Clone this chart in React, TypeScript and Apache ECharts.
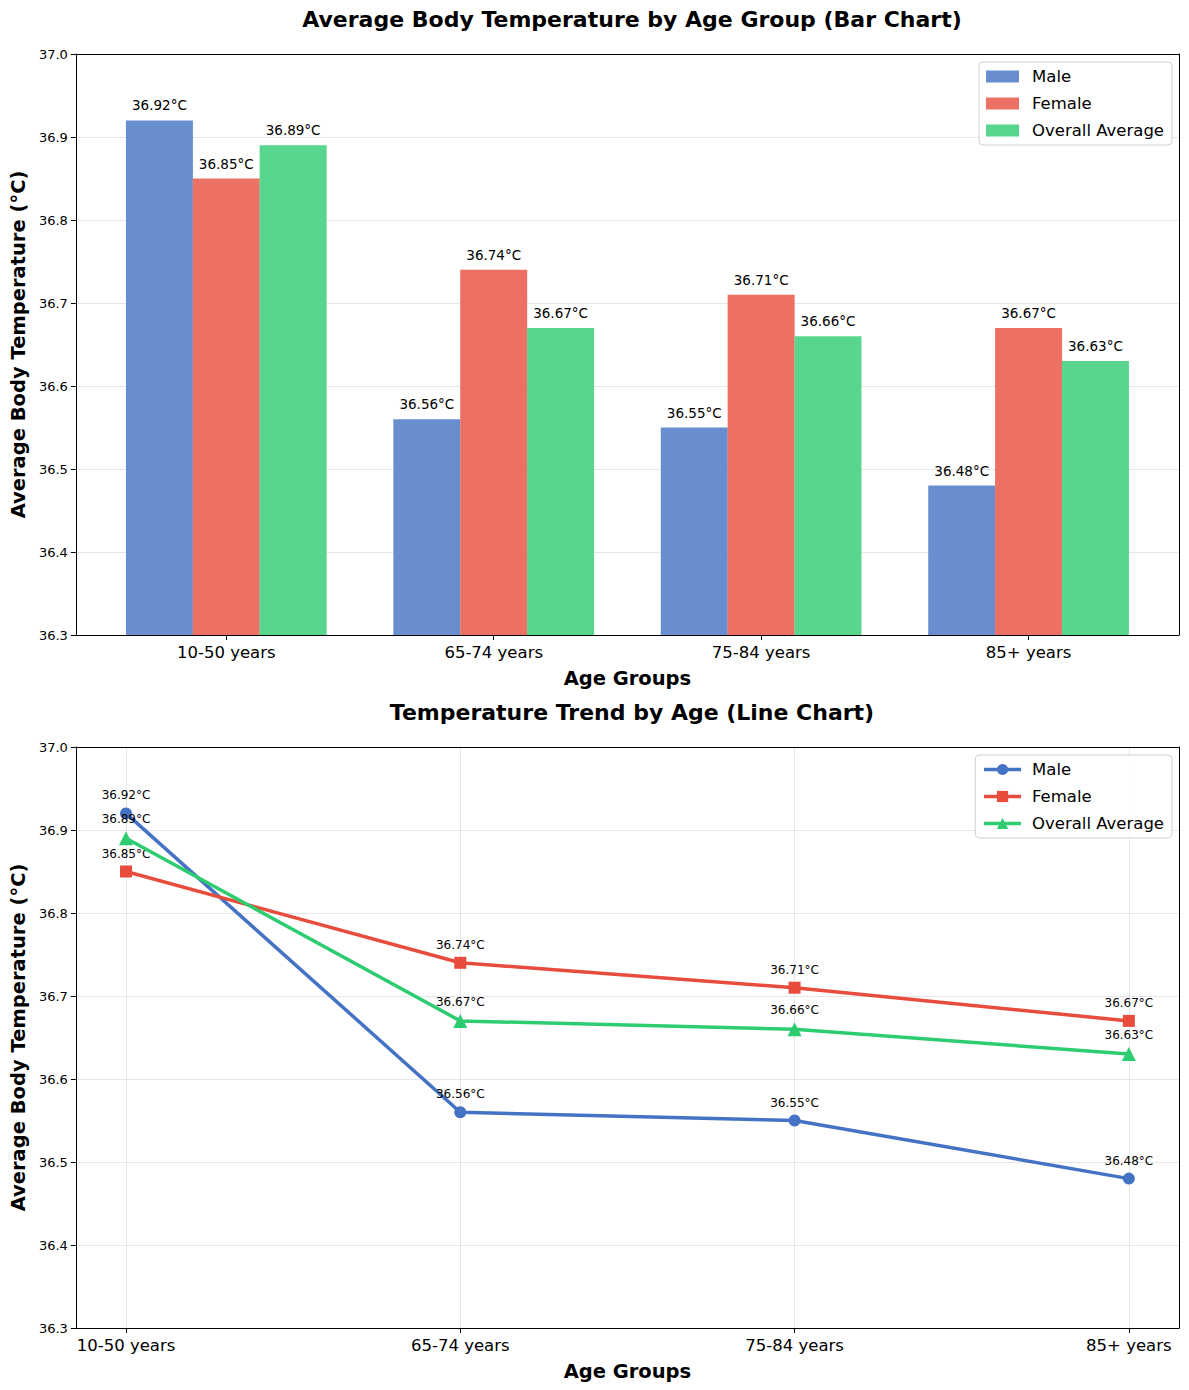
import React, { useEffect, useRef } from "react";
import * as echarts from "echarts";

const categories = ["10-50 years", "65-74 years", "75-84 years", "85+ years"];
const maleTemps = [36.92, 36.56, 36.55, 36.48];
const femaleTemps = [36.85, 36.74, 36.71, 36.67];
const overallTemps = [36.89, 36.67, 36.66, 36.63];
const seriesNames = ["Male", "Female", "Overall Average"];

const FONT = "DejaVu Sans";
const lineColors = ["#4472C4", "#E74C3C", "#2ECC71"];
const barColors = ["#698ED0", "#EC7063", "#58D68D"];
const barOffsets = [-0.25, 0, 0.25];
const allValues = [maleTemps, femaleTemps, overallTemps];
const markers = ["circle", "rect", "triangle"];

const GRID_LEFT = 75;
const GRID_W = 1104;
const GRID_H = 581;
const TOP1 = 54;
const TOP2 = 747;

export default function App() {
  const ref = useRef<HTMLDivElement>(null);
  useEffect(() => {
    document.body.style.margin = "0";
    const chart = echarts.init(ref.current!, null, { renderer: "svg" });

    const catLabel = (v: number) => {
      const r = Math.round(v);
      return Math.abs(v - r) < 1e-6 && r >= 0 && r < categories.length ? categories[r] : "";
    };

    const yAxisBase = (gridIndex: number) => ({
      type: "value",
      gridIndex,
      position: "left",
      min: 36.3,
      max: 37.0,
      interval: 0.1,
      name: "Average Body Temperature (°C)",
      nameLocation: "middle",
      nameGap: 47,
      nameTextStyle: { fontFamily: FONT, fontSize: 19.5, fontWeight: "bold", color: "#000" },
      axisLine: { show: true, onZero: false, lineStyle: { color: "#000", width: 1 } },
      axisTick: { show: true, length: 5, lineStyle: { color: "#000" } },
      axisLabel: {
        fontFamily: FONT,
        fontSize: 13,
        color: "#000",
        margin: 8,
        formatter: (v: number) => v.toFixed(1),
      },
      splitLine: { show: true, lineStyle: { color: "#e6e6e6", width: 1 } },
    });

    const frameY = (gridIndex: number) => ({
      type: "value",
      gridIndex,
      position: "right",
      min: 0,
      max: 1,
      axisLine: { show: true, onZero: false, lineStyle: { color: "#000", width: 1 } },
      axisTick: { show: false },
      axisLabel: { show: false },
      splitLine: { show: false },
    });

    const frameX = (gridIndex: number) => ({
      type: "value",
      gridIndex,
      position: "top",
      min: 0,
      max: 1,
      axisLine: { show: true, onZero: false, lineStyle: { color: "#000", width: 1 } },
      axisTick: { show: false },
      axisLabel: { show: false },
      splitLine: { show: false },
    });

    const xAxisBase = (gridIndex: number, min: number, max: number, split: boolean) => ({
      type: "value",
      gridIndex,
      position: "bottom",
      min,
      max,
      minInterval: 1,
      maxInterval: 1,
      name: "Age Groups",
      nameLocation: "middle",
      nameGap: 33,
      nameTextStyle: { fontFamily: FONT, fontSize: 19.5, fontWeight: "bold", color: "#000" },
      axisLine: { show: true, onZero: false, lineStyle: { color: "#000", width: 1 } },
      axisTick: { show: true, length: 5, lineStyle: { color: "#000" } },
      axisLabel: {
        fontFamily: FONT,
        fontSize: 16.5,
        color: "#000",
        margin: 9,
        showMinLabel: false,
        showMaxLabel: false,
        formatter: catLabel,
      },
      splitLine: { show: split, lineStyle: { color: "#e6e6e6", width: 1 } },
    });

    const barSeries = seriesNames.map((name, s) => ({
      type: "bar",
      name,
      xAxisIndex: 0,
      yAxisIndex: 0,
      barWidth: 67,
      barGap: "-100%",
      itemStyle: { color: barColors[s] },
      label: {
        show: true,
        position: "top",
        distance: 8,
        fontFamily: FONT,
        fontSize: 13.5,
        color: "#000",
        formatter: (p: any) => `${p.value[1].toFixed(2)}°C`,
      },
      data: allValues[s].map((v, i) => [i + barOffsets[s], v]),
    }));

    const lineSeries = seriesNames.map((name, s) => ({
      type: "line",
      name: "line:" + name,
      xAxisIndex: 2,
      yAxisIndex: 2,
      symbol: markers[s],
      symbolSize: s === 2 ? 14 : 12,
      showAllSymbol: true,
      lineStyle: { color: lineColors[s], width: 3.5 },
      itemStyle: { color: lineColors[s] },
      label: {
        show: true,
        position: "top",
        distance: 6,
        fontFamily: FONT,
        fontSize: 12,
        color: "#000",
        formatter: (p: any) => `${p.value[1].toFixed(2)}°C`,
      },
      data: allValues[s].map((v, i) => [i, v]),
      z: 3 + s,
    }));

    const legendBase = {
      orient: "vertical",
      right: 17,
      backgroundColor: "rgba(255,255,255,0.85)",
      borderColor: "#d0d0d0",
      borderWidth: 1,
      borderRadius: 4,
      padding: [6, 8, 6, 7],
      itemGap: 10,
      textStyle: { fontFamily: FONT, fontSize: 16.5, color: "#000", padding: [0, 0, 0, 8] },
    };

    chart.setOption({
      animation: false,
      backgroundColor: "#fff",
      textStyle: { fontFamily: FONT },
      title: [
        {
          text: "Average Body Temperature by Age Group (Bar Chart)",
          left: GRID_LEFT + GRID_W / 2,
          textAlign: "center",
          top: 3,
          textStyle: { fontFamily: FONT, fontSize: 22, fontWeight: "bold", color: "#000" },
        },
        {
          text: "Temperature Trend by Age (Line Chart)",
          left: GRID_LEFT + GRID_W / 2,
          textAlign: "center",
          top: 696,
          textStyle: { fontFamily: FONT, fontSize: 22, fontWeight: "bold", color: "#000" },
        },
      ],
      legend: [
        {
          ...legendBase,
          top: 62,
          icon: "rect",
          itemWidth: 33,
          itemHeight: 12,
          data: seriesNames,
        },
        {
          ...legendBase,
          top: 755,
          itemWidth: 37,
          itemHeight: 14,
          lineStyle: { width: 3.5 },
          textStyle: { ...legendBase.textStyle, padding: [0, 0, 0, 6] },
          data: seriesNames.map((n) => "line:" + n),
          formatter: (n: string) => n.replace("line:", ""),
        },
      ],
      grid: [
        { left: GRID_LEFT, top: TOP1, width: GRID_W, height: GRID_H },
        { left: GRID_LEFT, top: TOP2, width: GRID_W, height: GRID_H },
      ],
      xAxis: [
        xAxisBase(0, -0.5625, 3.5625, false),
        frameX(0),
        xAxisBase(1, -0.15, 3.15, true),
        frameX(1),
      ],
      yAxis: [yAxisBase(0), frameY(0), yAxisBase(1), frameY(1)],
      series: [...barSeries, ...lineSeries],
    });

    return () => chart.dispose();
  }, []);

  return <div ref={ref} style={{ width: 1189, height: 1390 }} />;
}
